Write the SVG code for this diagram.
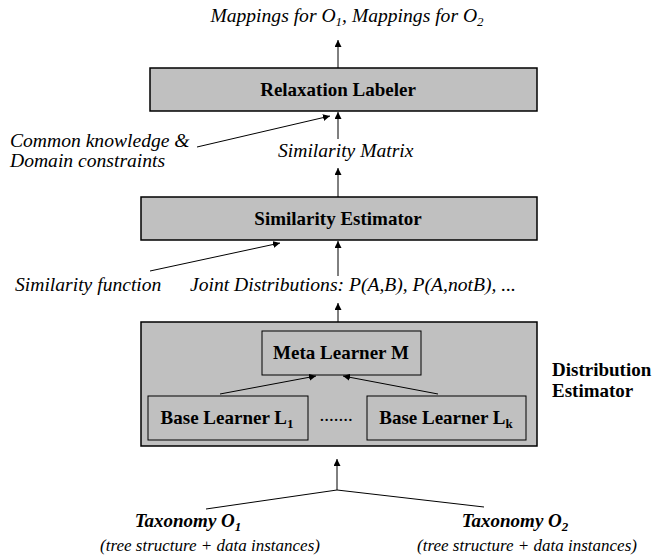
<svg xmlns="http://www.w3.org/2000/svg" width="654" height="560" viewBox="0 0 654 560">
<style>
text{font-family:'Liberation Serif','Times New Roman',Times,'DejaVu Serif',serif;font-size:19px;fill:#000}
.b{font-weight:bold}
.i{font-style:italic;font-size:19.6px}
.b.i{font-size:19px}
.p{font-style:italic;font-size:17px}
.box{fill:#c0c0c0;stroke:#000;stroke-width:1.5}
.ibox{fill:#c0c0c0;stroke:#000;stroke-width:1}
.ln{stroke:#000;stroke-width:1;fill:none}
.c{text-anchor:middle}
</style>
<defs>
<marker id="ah" viewBox="0 0 10 10" refX="10" refY="5" markerWidth="7" markerHeight="7" markerUnits="userSpaceOnUse" orient="auto">
<path d="M0,0 L10,5 L0,10 z" fill="#000"/>
</marker>
</defs>
<rect width="654" height="560" fill="#fff"/>
<g font-family="'Liberation Serif','Times New Roman',Times,'DejaVu Serif',serif">
<g id="mappings"><text class="i c" x="347" y="22">Mappings for O<tspan font-size="13" dy="4">1</tspan><tspan dy="-4">, Mappings for O</tspan><tspan font-size="13" dy="4">2</tspan></text></g>
<g id="relaxation"><rect class="box" x="150" y="68" width="387" height="43"/><text class="b c" x="338" y="96">Relaxation Labeler</text></g>
<g id="common"><text class="i" x="10" y="147">Common knowledge &amp;</text><text class="i" x="10" y="167">Domain constraints</text></g>
<g id="simmatrix"><text class="i" x="278" y="157">Similarity Matrix</text></g>
<g id="simest"><rect class="box" x="141" y="197" width="396" height="43"/><text class="b c" x="338" y="225">Similarity Estimator</text></g>
<g id="simfunc"><text class="i" x="15" y="291">Similarity function</text></g>
<g id="joint"><text class="i" x="190" y="291">Joint Distributions: P(A,B), P(A,notB), ...</text></g>
<g id="distest"><rect class="box" x="141" y="322" width="396" height="124"/>
<text class="b" x="552" y="376">Distribution</text><text class="b" x="552" y="397">Estimator</text></g>
<g id="meta"><rect class="ibox" x="262" y="331" width="159" height="44"/><text class="b c" x="341" y="359">Meta Learner M</text></g>
<g id="base1"><rect class="ibox" x="148" y="396" width="160" height="44"/><text class="b c" x="227" y="424">Base Learner L<tspan font-size="13" dy="4">1</tspan></text></g>
<g id="dots"><text x="336" y="421" class="c" font-size="14">.......</text></g>
<g id="basek"><rect class="ibox" x="367" y="396" width="159" height="44"/><text class="b c" x="446" y="424">Base Learner L<tspan font-size="13" dy="4">k</tspan></text></g>
<g id="tax1"><text class="b i c" x="188" y="527">Taxonomy O<tspan font-size="13" dy="4">1</tspan></text><text class="p c" x="210" y="551">(tree structure + data instances)</text></g>
<g id="tax2"><text class="b i c" x="515" y="527">Taxonomy O<tspan font-size="13" dy="4">2</tspan></text><text class="p c" x="527" y="551">(tree structure + data instances)</text></g>
</g>
<g id="connectors">
<line class="ln" x1="338" y1="68" x2="338" y2="40" marker-end="url(#ah)"/>
<line class="ln" x1="338" y1="139" x2="338" y2="112" marker-end="url(#ah)"/>
<line class="ln" x1="197" y1="147" x2="330" y2="116" marker-end="url(#ah)"/>
<line class="ln" x1="338" y1="197" x2="338" y2="168" marker-end="url(#ah)"/>
<line class="ln" x1="338" y1="276" x2="338" y2="241" marker-end="url(#ah)"/>
<line class="ln" x1="150" y1="271" x2="280" y2="243" marker-end="url(#ah)"/>
<line class="ln" x1="338" y1="322" x2="338" y2="303" marker-end="url(#ah)"/>
<line class="ln" x1="220" y1="394" x2="316" y2="376" marker-end="url(#ah)"/>
<line class="ln" x1="438" y1="394" x2="343" y2="376" marker-end="url(#ah)"/>
<polyline class="ln" points="206,509 337,490 484,507"/>
<line class="ln" x1="337" y1="490" x2="337" y2="459" marker-end="url(#ah)"/>
</g>
</svg>
